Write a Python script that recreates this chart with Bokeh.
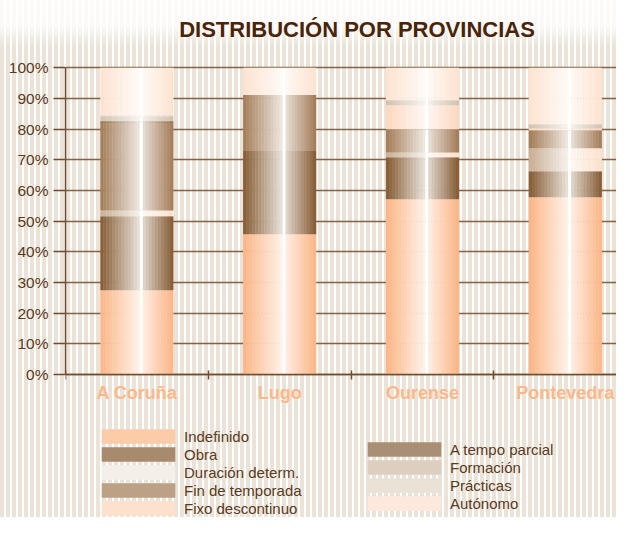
from bokeh.plotting import figure
from bokeh.models import (Range1d, FixedTicker, PrintfTickFormatter, ColumnDataSource,
                          Legend, LegendItem, Label)
from bokeh.embed import file_html
from bokeh.resources import INLINE

# ---------------- data ----------------
provinces = ["A Coruña", "Lugo", "Ourense", "Pontevedra"]
series = ["Indefinido", "Obra", "Duración determ.", "Fin de temporada", "Fixo descontinuo",
          "A tempo parcial", "Formación", "Prácticas", "Autónomo"]
indefinido = [27.5, 45.7, 57.1, 57.8]
obra = [24.1, 27.2, 13.7, 8.5]
duracion = [1.9, 0.0, 1.6, 7.5]
fin_temporada = [28.6, 18.2, 7.6, 5.8]
fixo_descontinuo = [0.0, 0.0, 7.8, 0.7]
tempo_parcial = [0.5, 0.0, 0.0, 0.0]
formacion = [1.6, 0.0, 1.6, 1.3]
practicas = [0.3, 0.0, 0.0, 0.0]
autonomo = [15.5, 8.9, 10.6, 18.4]
y_ticks = list(range(0, 101, 10))
title_text = "DISTRIBUCIÓN POR PROVINCIAS"

values = [indefinido, obra, duracion, fin_temporada, fixo_descontinuo,
          tempo_parcial, formacion, practicas, autonomo]

# ---------------- style ----------------
left_colors = ["#fbb585", "#845a31", "#c9ae93", "#a27b56", "#fcd8bf",
               "#7b522c", "#d2c1ae", "#e4d8cb", "#fde3d0"]
right_colors = ["#fbb585", "#845a31", "#fde1cc", "#a27b56", "#fcd8bf",
                "#7b522c", "#d2c1ae", "#e4d8cb", "#fde3d0"]
legend_slices = [4, 4, 12, 4, 3, 5, 3, 3, 3]
BROWN = "#6e4d2e"
TEXT = "#5a3a1c"
BAR_W = 0.51
N_SLICES = 24

W, H = 616, 517
FRAME_LEFT = 65
PX_PER_CAT = 142.8
ZERO_Y = 374.0      # canvas y of 0 %
PX_PER_PCT = 3.067


def hex2rgb(h):
    h = h.lstrip("#")
    return tuple(int(h[i:i + 2], 16) for i in (0, 2, 4))


def blend(h, f):
    r, g, b = hex2rgb(h)
    return "#%02x%02x%02x" % tuple(int(round(c + (255 - c) * f)) for c in (r, g, b))


def profile(t):
    if t < 0.545:
        return 1.55 * t
    if t < 0.59:
        return 1.0
    return min(0.75, 1.83 * (1 - t))


# rows of stacked segments
rows = []  # (province index, series index, bottom, top)
first_row = {}
for pi in range(len(provinces)):
    base = 0.0
    for si, vals in enumerate(values):
        v = vals[pi]
        if v > 0:
            if si not in first_row:
                first_row[si] = len(rows)
            rows.append((pi, si, base, base + v))
        base += v

x_end = (W - FRAME_LEFT) / PX_PER_CAT
y_start = -(H - ZERO_Y) / PX_PER_PCT
y_end = ZERO_Y / PX_PER_PCT

p = figure(width=W, height=H, x_range=Range1d(0, x_end), y_range=Range1d(y_start, y_end),
           output_backend="svg", toolbar_location=None,
           min_border_left=FRAME_LEFT, min_border_right=0, min_border_top=0, min_border_bottom=0,
           border_fill_color=None, background_fill_color=None, outline_line_color=None)

# striped page background (CSS, behind the transparent canvas)
p.styles = {
    "background-image": (
        "linear-gradient(to bottom, rgba(255,255,255,0.85) 0px, rgba(255,255,255,0.8) 26px, "
        "rgba(255,255,255,0) 46px), "
        "repeating-linear-gradient(90deg, #ebe3d8 0px, #ebe3d8 4px, #ffffff 4px, #ffffff 6px)"
    )
}

slice_renderers = []
w = BAR_W / N_SLICES
for k in range(N_SLICES):
    t = (k + 0.5) / N_SLICES
    f = profile(t)
    xs, bots, tops, cols = [], [], [], []
    for (pi, si, b, tp) in rows:
        xs.append(pi + 0.5 - BAR_W / 2 + (k + 0.5) * w)
        bots.append(b)
        tops.append(tp)
        basec = left_colors[si] if t < 0.57 else right_colors[si]
        cols.append(blend(basec, f))
    src = ColumnDataSource(dict(x=xs, bottom=bots, top=tops, color=cols))
    r = p.vbar(x="x", width=w * 1.12, bottom="bottom", top="top", source=src,
               fill_color="color", line_color=None)
    slice_renderers.append(r)

# grid
p.xgrid.visible = False
p.ygrid.ticker = FixedTicker(ticks=y_ticks)
p.ygrid.grid_line_color = BROWN
p.ygrid.grid_line_width = 1.4
p.ygrid.grid_line_alpha = 0.85

# y axis
ya = p.yaxis[0]
ya.ticker = FixedTicker(ticks=y_ticks)
ya.bounds = (0, 100)
ya.formatter = PrintfTickFormatter(format="%d%%")
ya.axis_line_color = BROWN
ya.axis_line_width = 1.5
ya.major_tick_line_color = BROWN
ya.major_tick_line_width = 1.4
ya.major_tick_in = 0
ya.major_tick_out = 12
ya.minor_tick_line_color = None
ya.major_label_standoff = 5
ya.major_label_text_font = "Liberation Sans"
ya.major_label_text_font_size = "15.5px"
ya.major_label_text_color = TEXT

# x axis, drawn at 0 %
xa = p.xaxis[0]
xa.fixed_location = 0
centers = [i + 0.5 for i in range(len(provinces))]
xa.ticker = FixedTicker(ticks=centers, minor_ticks=list(range(len(provinces))))
xa.major_label_overrides = {c: name for c, name in zip(centers, provinces)}
xa.axis_line_color = BROWN
xa.axis_line_width = 1.5
xa.major_tick_line_color = None
xa.major_tick_in = 0
xa.major_tick_out = 0
xa.minor_tick_line_color = BROWN
xa.minor_tick_line_width = 1.5
xa.minor_tick_in = 4
xa.minor_tick_out = 5
xa.major_label_standoff = 3
xa.major_label_text_font = "Liberation Sans"
xa.major_label_text_font_size = "18px"
xa.major_label_text_font_style = "bold"
xa.major_label_text_color = "#fbb88a"

# title (positioned in screen pixels from the frame's bottom-left)
p.add_layout(Label(x=356.5 - FRAME_LEFT, y=H - 28.5, x_units="screen", y_units="screen",
                   text=title_text, text_align="center", text_baseline="alphabetic",
                   text_font="Liberation Sans", text_font_size="22px", text_font_style="bold",
                   text_color="#4a2407"))


# legends (legend swatch is drawn at 80% of the glyph box)
def make_legend(idx_list, loc):
    items = [LegendItem(label=series[si], renderers=[slice_renderers[legend_slices[si]]],
                        index=first_row[si]) for si in idx_list]
    return Legend(items=items, location=loc, orientation="vertical",
                  glyph_width=92, glyph_height=18, label_height=18, spacing=0,
                  label_standoff=0, padding=0, margin=0,
                  border_line_color=None, background_fill_alpha=0,
                  label_text_font="Liberation Sans", label_text_font_size="15px",
                  label_text_line_height=1.0, label_text_color=TEXT)


p.add_layout(make_legend([0, 1, 2, 3, 4], (92 - FRAME_LEFT, 0)))
p.add_layout(make_legend([5, 6, 7, 8], (358 - FRAME_LEFT, 5)))

open("out.html", "w").write(file_html(p, INLINE))
